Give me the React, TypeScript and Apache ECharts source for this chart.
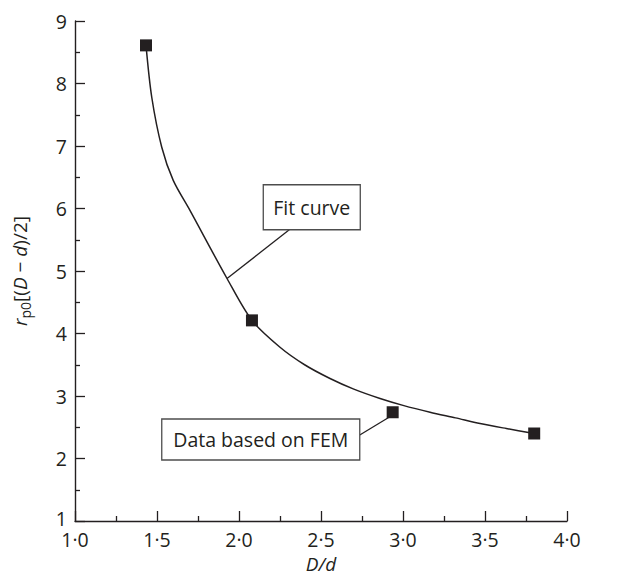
import React, { useEffect, useRef } from 'react';
import * as echarts from 'echarts';

// Tick labels
const xTickLabels = ['1·0', '1·5', '2·0', '2·5', '3·0', '3·5', '4·0'];
const yTickLabels = ['1', '2', '3', '4', '5', '6', '7', '8', '9'];

// FEM data points (D/d, rp0[(D-d)/2])
const femX = [1.433, 2.079, 2.937, 3.8];
const femY = [8.61, 4.21, 2.74, 2.4];

// Fit curve samples
const fitX = [1.433, 1.468, 1.529, 1.599, 1.701, 1.927, 2.079, 2.25, 2.4, 2.555, 2.7, 2.86, 3.0, 3.165, 3.32, 3.47, 3.63, 3.8];
const fitY = [8.61, 7.78, 6.98, 6.45, 5.97, 4.88, 4.21, 3.78, 3.5, 3.28, 3.11, 2.96, 2.85, 2.74, 2.65, 2.56, 2.48, 2.4];

const fitLabel = 'Fit curve';
const femLabel = 'Data based on FEM';

const FONT = '"Open Sans", "Noto Sans", sans-serif';
const INK = '#231f20';

export default function App() {
  const ref = useRef<HTMLDivElement>(null);
  useEffect(() => {
    if (!ref.current) return;
    const chart = echarts.init(ref.current, null, { renderer: 'svg' });
    chart.setOption({
      animation: false,
      backgroundColor: '#fff',
      grid: { left: 67, right: 46, top: 13, bottom: 60, containLabel: false, outerBoundsMode: 'none' },
      xAxis: {
        type: 'value',
        min: 1,
        max: 4,
        interval: 0.5,
        name: 'D/d',
        nameLocation: 'middle',
        nameGap: 33,
        nameTextStyle: { fontFamily: FONT, fontSize: 19, fontStyle: 'italic', color: INK },
        axisLine: { show: true, lineStyle: { color: INK, width: 1.4 } },
        axisTick: { show: true, inside: true, length: 10, lineStyle: { color: INK, width: 1.3 } },
        minorTick: { show: true, splitNumber: 2, length: 5, lineStyle: { color: INK, width: 1.3 } },
        axisLabel: {
          margin: 8,
          fontFamily: FONT,
          fontSize: 19.5,
          color: INK,
          formatter: (v: number) => xTickLabels[Math.round((v - 1) / 0.5)] ?? '',
        },
        splitLine: { show: false },
      },
      yAxis: {
        type: 'value',
        min: 1,
        max: 9,
        interval: 1,
        name: '{i|r}{s|p0}{n|[(}{i|D}{n| − }{i|d}{n|)/2]}',
        nameLocation: 'middle',
        nameGap: 43,
        nameRotate: 90,
        nameTextStyle: {
          color: INK,
          rich: {
            i: { fontFamily: FONT, fontSize: 19, fontStyle: 'italic', color: INK, lineHeight: 24, verticalAlign: 'middle' },
            n: { fontFamily: FONT, fontSize: 19, color: INK, lineHeight: 24, verticalAlign: 'middle' },
            s: { fontFamily: FONT, fontSize: 14, color: INK, lineHeight: 14, verticalAlign: 'bottom', padding: [7, 0, 0, 0] },
          },
        },
        axisLine: { show: true, lineStyle: { color: INK, width: 1.4 } },
        axisTick: { show: true, inside: true, length: 10, lineStyle: { color: INK, width: 1.3 } },
        minorTick: { show: true, splitNumber: 2, length: 5, lineStyle: { color: INK, width: 1.3 } },
        axisLabel: {
          margin: 8,
          fontFamily: FONT,
          fontSize: 19.5,
          color: INK,
          formatter: (v: number) => {
            const t = yTickLabels[Math.round(v - 1)] ?? '';
            return v === 1 ? `{low|${t}}` : t;
          },
          rich: {
            low: { fontFamily: FONT, fontSize: 19.5, color: INK, lineHeight: 20, padding: [0, 0, 6, 0] },
          },
        },
        splitLine: { show: false },
      },
      series: [
        {
          type: 'line',
          name: 'Fit curve',
          data: fitX.map((x, i) => [x, fitY[i]]),
          smooth: 0.3,
          showSymbol: false,
          symbol: 'none',
          lineStyle: { color: INK, width: 1.5 },
          z: 2,
        },
        {
          type: 'scatter',
          name: 'FEM',
          data: femX.map((x, i) => [x, femY[i]]),
          symbol: 'rect',
          symbolSize: 12,
          itemStyle: { color: INK, opacity: 1 },
          z: 3,
        },
      ],
    });

    // annotations anchored in data coordinates
    const px = (p: number[]) => chart.convertToPixel({ gridIndex: 0 }, p) as number[];
    const fitBoxTL = px([2.148, 6.38]);
    const fitTarget = px([fitX[5], fitY[5]]);
    const femBoxTL = px([1.529, 2.632]);
    const femTarget = px([2.925, 2.675]);
    const fitW = 97, fitH = 45, femW = 198, femH = 41;
    const boxStyle = { fill: '#fff', stroke: '#4d4d4d', lineWidth: 1.3 };
    const textStyle = (t: string) => ({ text: t, fontFamily: FONT, fontSize: 19.5, fill: INK, align: 'center', verticalAlign: 'middle' });
    chart.setOption({
      graphic: [
        { type: 'line', shape: { x1: fitBoxTL[0] + 26, y1: fitBoxTL[1] + fitH, x2: fitTarget[0], y2: fitTarget[1] }, style: { stroke: INK, lineWidth: 1.3 }, z: 10 },
        { type: 'rect', shape: { x: fitBoxTL[0], y: fitBoxTL[1], width: fitW, height: fitH }, style: boxStyle, z: 10 },
        { type: 'text', x: fitBoxTL[0] + fitW / 2, y: fitBoxTL[1] + fitH / 2, style: textStyle(fitLabel), z: 11 },
        { type: 'line', shape: { x1: femBoxTL[0] + femW, y1: femBoxTL[1] + 16, x2: femTarget[0], y2: femTarget[1] }, style: { stroke: INK, lineWidth: 1.3 }, z: 10 },
        { type: 'rect', shape: { x: femBoxTL[0], y: femBoxTL[1], width: femW, height: femH }, style: boxStyle, z: 10 },
        { type: 'text', x: femBoxTL[0] + femW / 2, y: femBoxTL[1] + femH / 2, style: textStyle(femLabel), z: 11 },
      ],
    });
    return () => chart.dispose();
  }, []);
  return <div ref={ref} style={{ width: 605, height: 573 }} />;
}
